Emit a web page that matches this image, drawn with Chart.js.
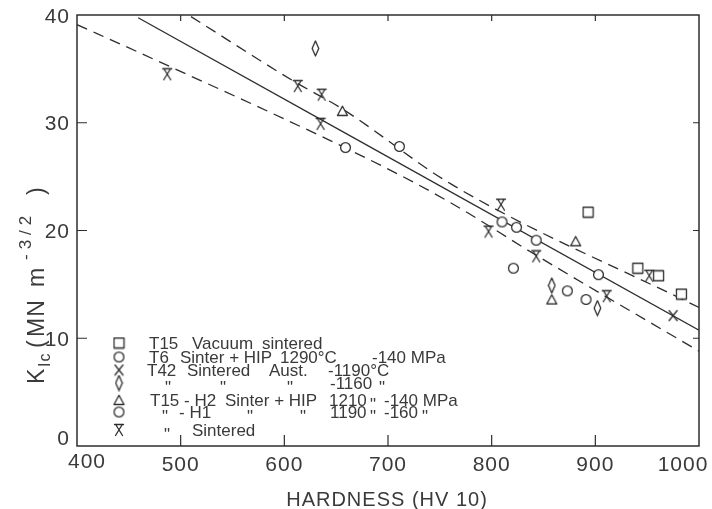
<!DOCTYPE html>
<html>
<head>
<meta charset="utf-8">
<script src="https://cdn.jsdelivr.net/npm/chart.js@4.4.1/dist/chart.umd.min.js"></script>
<style>
  html, body { margin:0; padding:0; background:#fff; }
</style>
</head>
<body>
<canvas id="chart" width="712" height="509"></canvas>
<script>
// values: K_Ic (MN m^-3/2) against hardness HV10
const xTicks = [400, 500, 600, 700, 800, 900, 1000];
const yTicks = [0, 10, 20, 30, 40];

const t15VacHV = [893, 941, 961, 983];
const t15VacK  = [21.7, 16.5, 15.8, 14.1];
const t6HipHV  = [659, 711, 810, 824, 843, 903];
const t6HipK   = [27.7, 27.8, 20.8, 20.3, 19.1, 15.9];
const t42a1190HV = [975];
const t42a1190K  = [12.1];
const t42a1160HV = [630, 858, 902];
const t42a1160K  = [36.9, 14.9, 12.8];
const h2HipHV = [656, 881, 858];
const h2HipK  = [31.1, 19.0, 13.6];
const h1HipHV = [821, 873, 891];
const h1HipK  = [16.5, 14.4, 13.6];
const sinteredHV = [487, 613, 636, 635, 809, 797, 843, 911, 952];
const sinteredK  = [34.5, 33.4, 32.6, 29.9, 22.4, 19.9, 17.6, 13.9, 15.8];

// regression line and the two dashed bands
const fitHV = [459, 1000];
const fitK  = [39.75, 10.75];
const upperHV = [510, 609, 656, 761, 1000];
const upperK  = [39.85, 33.86, 31.28, 24.3, 12.85];
const lowerHV = [400, 458, 694, 760, 843, 1000];
const lowerK  = [39.1, 36.6, 26.0, 22.6, 17.7, 8.8];

const ink = '#2e2e2e';
const textInk = '#3a3a3a';
const FONT = '"Liberation Sans", Arial, sans-serif';

function pts(xs, ys){
  return xs.map((x, i) => ({ x, y: ys[i] }));
}

// little canvases used as point styles (and again in the legend)
function glyph(w, h, draw){
  const c = document.createElement('canvas');
  c.width = w; c.height = h;
  const g = c.getContext('2d');
  g.strokeStyle = ink; g.fillStyle = '#fff';
  g.lineWidth = 1.3; g.lineJoin = 'round'; g.lineCap = 'round';
  draw(g, w, h);
  return c;
}
const squareImg = glyph(13, 13, g => { g.beginPath(); g.rect(1.5, 1.5, 10, 10); g.fill(); g.stroke(); });
const circleImg = glyph(13, 13, g => { g.beginPath(); g.arc(6.5, 6.5, 4.9, 0, Math.PI*2); g.fill(); g.stroke(); });
const triImg = glyph(13, 12, g => { g.beginPath(); g.moveTo(6.5, 1.2); g.lineTo(11.5, 10.5); g.lineTo(1.5, 10.5); g.closePath(); g.fill(); g.stroke(); });
const crossImg = glyph(11, 13, g => { g.beginPath(); g.moveTo(1.5, 1.5); g.lineTo(9.5, 11.5); g.moveTo(9.5, 1.5); g.lineTo(1.5, 11.5); g.stroke(); });
const diamondImg = glyph(9, 17, g => { g.beginPath(); g.moveTo(4.5, 1); g.lineTo(7.8, 8.5); g.lineTo(4.5, 16); g.lineTo(1.2, 8.5); g.closePath(); g.fill(); g.stroke(); });
const hourImg = glyph(12, 14, g => {
  g.beginPath();
  g.moveTo(1.5, 1.5); g.lineTo(10.5, 1.5);
  g.moveTo(3, 2); g.lineTo(9.5, 12.5);
  g.moveTo(9, 2); g.lineTo(2.5, 12.5);
  g.stroke();
});

function marks(label, xs, ys, img){
  return {
    type: 'scatter', label, data: pts(xs, ys), order: 0,
    pointStyle: img, pointRadius: 5, pointHoverRadius: 5,
    borderColor: ink, backgroundColor: '#fff'
  };
}
function band(label, xs, ys, dash){
  return {
    type: 'line', label, data: pts(xs, ys), order: 1,
    borderColor: ink, borderWidth: 1.3, borderDash: dash,
    pointRadius: 0, fill: false, cubicInterpolationMode: 'monotone'
  };
}

const DITTO = '"';
const legendRows = [
  { img: squareImg, y: 343, parts: [['T15', 149], ['Vacuum', 192], ['sintered', 262]] },
  { img: circleImg, y: 357, parts: [['T6', 149], ['Sinter + HIP', 180], ['1290°C', 280], ['-140 MPa', 372]] },
  { img: crossImg, y: 370, parts: [['T42', 147], ['Sintered', 187], ['Aust.', 269], ['-1190°C', 328]] },
  { img: diamondImg, y: 383, parts: [[DITTO, 165], [DITTO, 220], [DITTO, 287], ['-1160', 330], [DITTO, 379]] },
  { img: triImg, y: 400, parts: [['T15 - H2', 150], ['Sinter + HIP', 225], ['1210', 329], [DITTO, 370], ['-140 MPa', 384]] },
  { img: circleImg, y: 412, parts: [[DITTO, 162], ['- H1', 179], [DITTO, 247], [DITTO, 300], ['1190', 330], [DITTO, 370], ['-160', 384], [DITTO, 422]] },
  { img: hourImg, y: 430, parts: [[DITTO, 164], ['Sintered', 192]] }
];

// y title pieces: text, font size, lower end on screen, baseline x
const yTitleParts = [
  ['K', 23, 384, 44], ['Ic', 16, 367, 50], ['(', 23, 348, 44], ['MN', 23, 337, 44],
  ['m', 23, 287, 44], ['-3/2', 17, 260, 31], [')', 23, 195, 44]
];

const decor = {
  id: 'decor',
  afterDraw(chart){
    const { ctx, chartArea: a, scales: { x, y } } = chart;
    ctx.save();
    // frame with inward ticks on all sides
    ctx.strokeStyle = ink;
    ctx.lineWidth = 1.5;
    ctx.strokeRect(a.left, a.top, a.right - a.left, a.bottom - a.top);
    ctx.lineWidth = 1.2;
    ctx.beginPath();
    xTicks.slice(1, -1).forEach(v => {
      const px = x.getPixelForValue(v);
      ctx.moveTo(px, a.bottom); ctx.lineTo(px, a.bottom - 11);
      ctx.moveTo(px, a.top); ctx.lineTo(px, a.top + 6);
    });
    yTicks.slice(1, -1).forEach(v => {
      const py = y.getPixelForValue(v);
      ctx.moveTo(a.left, py); ctx.lineTo(a.left + 10, py);
      ctx.moveTo(a.right, py); ctx.lineTo(a.right - 6, py);
    });
    ctx.stroke();

    // tick labels
    ctx.fillStyle = textInk;
    ctx.font = '21px ' + FONT;
    ctx.letterSpacing = '1px';
    ctx.textBaseline = 'alphabetic';
    ctx.textAlign = 'center';
    xTicks.forEach(v => {
      let px = x.getPixelForValue(v), py = a.bottom + 25;
      if (v === 400) { px += 10; py -= 3; }
      if (v === 1000) { px -= 16; }
      ctx.fillText(String(v), px, py);
    });
    ctx.textAlign = 'right';
    yTicks.forEach(v => {
      let py = y.getPixelForValue(v) + 7.5;
      if (v === 0) py -= 9;
      ctx.fillText(String(v), a.left - 7, py);
    });

    // axis titles
    ctx.textAlign = 'center';
    ctx.font = '20px ' + FONT;
    ctx.fillText('HARDNESS (HV 10)', (a.left + a.right) / 2 - 1, 506);

    ctx.textAlign = 'left';
    yTitleParts.forEach(([t, size, sy, bx]) => {
      ctx.save();
      ctx.font = size + 'px ' + FONT;
      ctx.letterSpacing = t === '-3/2' ? '5px' : '1px';
      ctx.translate(bx, sy);
      ctx.rotate(-Math.PI / 2);
      ctx.fillText(t, 0, 0);
      ctx.restore();
    });

    // legend block in the lower left
    ctx.letterSpacing = '0px';
    ctx.font = '17px ' + FONT;
    legendRows.forEach(r => {
      ctx.drawImage(r.img, 119 - r.img.width / 2, r.y - r.img.height / 2);
      r.parts.forEach(([t, tx]) => ctx.fillText(t, tx, r.y + (t === DITTO ? 10 : 6)));
    });
    ctx.restore();
  }
};

new Chart(document.getElementById('chart'), {
  data: {
    datasets: [
      marks('T15 Vacuum sintered', t15VacHV, t15VacK, squareImg),
      marks('T6 Sinter + HIP 1290°C -140 MPa', t6HipHV, t6HipK, circleImg),
      marks('T42 Sintered Aust. -1190°C', t42a1190HV, t42a1190K, crossImg),
      marks('T42 Sintered Aust. -1160°C', t42a1160HV, t42a1160K, diamondImg),
      marks('T15-H2 Sinter + HIP 1210°C -140 MPa', h2HipHV, h2HipK, triImg),
      marks('T15-H1 Sinter + HIP 1190°C -160 MPa', h1HipHV, h1HipK, circleImg),
      marks('T15 Sintered', sinteredHV, sinteredK, hourImg),
      band('fit', fitHV, fitK, []),
      band('upper', upperHV, upperK, [11, 7]),
      band('lower', lowerHV, lowerK, [11, 7])
    ]
  },
  options: {
    responsive: false,
    animation: false,
    layout: { padding: { top: 15, right: 13, left: 0, bottom: 0 } },
    plugins: { legend: { display: false }, tooltip: { enabled: false } },
    scales: {
      x: {
        type: 'linear', min: 400, max: 1000,
        afterFit(s){ s.height = 63; },
        grid: { display: false }, border: { display: false },
        ticks: { display: false, stepSize: 100 }
      },
      y: {
        type: 'linear', min: 0, max: 40,
        afterFit(s){ s.width = 77; },
        grid: { display: false }, border: { display: false },
        ticks: { display: false, stepSize: 10 }
      }
    }
  },
  plugins: [decor]
});
</script>
</body>
</html>
